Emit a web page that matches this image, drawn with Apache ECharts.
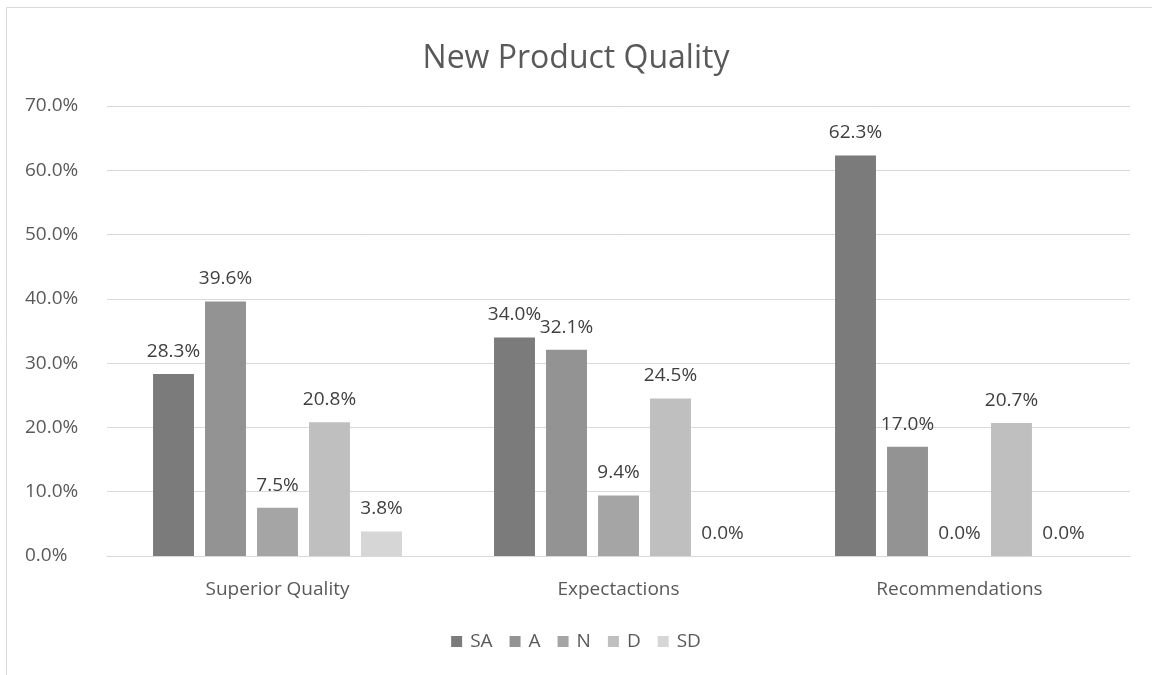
<!DOCTYPE html>
<html>
<head>
<meta charset="utf-8">
<script src="https://cdn.jsdelivr.net/npm/echarts@6/dist/echarts.min.js"></script>
<style>
  html, body { margin: 0; padding: 0; background: #fff; }
  #chart { width: 1152px; height: 675px; }
</style>
</head>
<body>
<div id="chart"></div>
<script>
// Survey responses per question, share of respondents (%)
const categories = ['Superior Quality', 'Expectactions', 'Recommendations'];
const seriesNames = ['SA', 'A', 'N', 'D', 'SD'];
const SA = [28.3, 34.0, 62.3];
const A  = [39.6, 32.1, 17.0];
const N  = [7.5, 9.4, 0.0];
const D  = [20.8, 24.5, 20.7];
const SD = [3.8, 0.0, 0.0];
const yTicks = [0, 10, 20, 30, 40, 50, 60, 70];

const values = [SA, A, N, D, SD];
const colors = ['#7b7b7b', '#939393', '#a5a5a5', '#bfbfbf', '#d6d6d6'];
const font = '"Open Sans", "Noto Sans", sans-serif';

const chart = echarts.init(document.getElementById('chart'));
chart.setOption({
  animation: false,
  textStyle: { fontFamily: font },
  graphic: [{
    type: 'rect',
    shape: { x: 6.5, y: 7.5, width: 1160, height: 700 },
    style: { fill: 'none', stroke: '#d9d9d9', lineWidth: 1 },
    silent: true
  }],
  title: {
    text: 'New Product Quality',
    left: 'center',
    top: 38,
    textStyle: { fontFamily: font, fontSize: 32, fontWeight: 'normal', color: '#595959' }
  },
  legend: {
    data: seriesNames,
    bottom: 19,
    left: 'center',
    itemWidth: 11,
    itemHeight: 11,
    itemGap: 17,
    icon: 'rect',
    textStyle: { fontFamily: font, fontSize: 19, color: '#595959', padding: [0, 0, 0, 3] }
  },
  grid: { left: 107, right: 22, top: 106, bottom: 119, containLabel: false },
  xAxis: {
    type: 'category',
    data: categories,
    axisTick: { show: false },
    axisLine: { lineStyle: { color: '#d9d9d9', width: 1 } },
    axisLabel: { fontFamily: font, fontSize: 19, color: '#595959', margin: 24 }
  },
  yAxis: {
    type: 'value',
    min: yTicks[0],
    max: yTicks[yTicks.length - 1],
    interval: 10,
    axisLine: { show: false },
    axisTick: { show: false },
    splitLine: { lineStyle: { color: '#d9d9d9', width: 1 } },
    axisLabel: {
      fontFamily: font, fontSize: 19, color: '#595959', margin: 82, align: 'left',
      formatter: v => v.toFixed(1) + '%'
    }
  },
  series: seriesNames.map((name, i) => ({
    name,
    type: 'bar',
    data: values[i],
    barGap: '27%',
    barCategoryGap: '27%',
    itemStyle: { color: colors[i] },
    label: {
      show: true,
      position: 'top',
      distance: 13,
      fontFamily: font,
      fontSize: 19,
      color: '#404040',
      formatter: p => p.value.toFixed(1) + '%'
    }
  }))
});
</script>
</body>
</html>
